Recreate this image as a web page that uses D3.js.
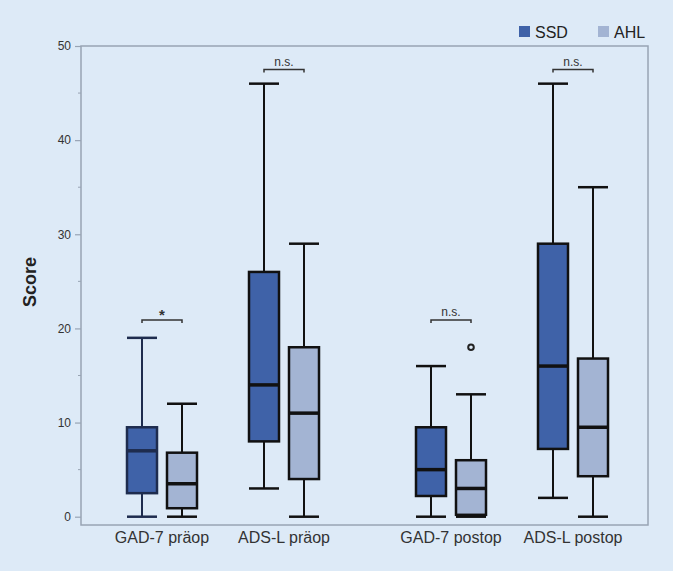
<!DOCTYPE html>
<html>
<head>
<meta charset="utf-8">
<script src="https://cdn.jsdelivr.net/npm/d3@7"></script>
<style>
  body { margin: 0; background: #ddeaf7; }
  svg { display: block; font-family: "Liberation Sans", Arial, sans-serif; }
</style>
</head>
<body>
<div id="chart"></div>
<script>
// categories and groups
var categories = ["GAD-7 präop", "ADS-L präop", "GAD-7 postop", "ADS-L postop"];
var groups = ["SSD", "AHL"];

// box stats per category: [min, q1, median, q3, max]
var ssdStats = [
  [0, 2.5, 7, 9.5, 19],
  [3, 8, 14, 26, 46],
  [0, 2.2, 5, 9.5, 16],
  [2, 7.2, 16, 29, 46]
];
var ahlStats = [
  [0, 0.9, 3.5, 6.8, 12],
  [0, 4, 11, 18, 29],
  [0, 0.2, 3, 6, 13],
  [0, 4.3, 9.5, 16.8, 35]
];
// outliers: [category index, group, value]
var outliers = [[2, "AHL", 18]];
// significance labels per category
var sigLabels = ["*", "n.s.", "n.s.", "n.s."];
var sigLevel = [20.9, 47.5, 20.9, 47.5];

var yTicks = [0, 10, 20, 30, 40, 50];
var yMinor = [5, 15, 25, 35, 45];

var colors = {SSD: "#3f62a8", AHL: "#a3b4d3"};

var W = 673, H = 571;
var svg = d3.select("#chart").append("svg")
    .attr("width", W).attr("height", H);

svg.append("rect").attr("width", W).attr("height", H).attr("fill", "#ddeaf7");

var y = d3.scaleLinear().domain([0, 50]).range([516.7, 46]);

// x: category index, with a wider gap between pre and post
var xPos = d3.scaleLinear().domain([0, 1]).range([162, 284]);
function catX(i) { return xPos(i) + (i >= 2 ? 45 : 0); }
var sub = d3.scaleOrdinal().domain(groups).range([-20, 20]);
var boxW = 30;

// frame
var frameColor = "#98a4b4";
svg.append("rect")
    .attr("x", 81).attr("y", y(50))
    .attr("width", 648 - 81).attr("height", 525 - y(50))
    .attr("fill", "none").attr("stroke", frameColor).attr("stroke-width", 1.5);

// y axis
var yAxis = svg.append("g").attr("transform", "translate(81,0)")
    .call(d3.axisLeft(y).tickValues(yTicks).tickSize(6).tickPadding(4));
yAxis.select(".domain").remove();
yAxis.selectAll(".tick line").attr("stroke", frameColor).attr("stroke-width", 1.2);
yAxis.selectAll(".tick text").attr("fill", "#333").style("font-size", "12px")
    .style("font-family", "Liberation Sans, Arial, sans-serif");

svg.append("g").selectAll("line").data(yMinor).enter().append("line")
    .attr("x1", 78).attr("x2", 81)
    .attr("y1", function(d) { return y(d); }).attr("y2", function(d) { return y(d); })
    .attr("stroke", frameColor).attr("stroke-width", 1);

// y label
svg.append("text")
    .attr("transform", "translate(36," + 282 + ") rotate(-90)")
    .attr("text-anchor", "middle")
    .style("font-size", "18px").style("font-weight", "bold").attr("fill", "#222")
    .text("Score");

// category labels
svg.append("g").selectAll("text").data(categories).enter().append("text")
    .attr("x", function(d, i) { return catX(i); })
    .attr("y", 543)
    .attr("text-anchor", "middle")
    .style("font-size", "16px").attr("fill", "#333")
    .text(function(d) { return d; });

// boxes
function drawBox(stats, group) {
  stats.forEach(function(s, i) {
    var cx = catX(i) + sub(group);
    var stroke = (group === "SSD" && i === 0) ? "#1e2c4e" : "#111";
    var g = svg.append("g");
    // whiskers
    g.append("line").attr("x1", cx).attr("x2", cx)
        .attr("y1", y(s[0])).attr("y2", y(s[1]))
        .attr("stroke", stroke).attr("stroke-width", 2);
    g.append("line").attr("x1", cx).attr("x2", cx)
        .attr("y1", y(s[3])).attr("y2", y(s[4]))
        .attr("stroke", stroke).attr("stroke-width", 2);
    [s[0], s[4]].forEach(function(v) {
      g.append("line").attr("x1", cx - boxW / 2).attr("x2", cx + boxW / 2)
          .attr("y1", y(v)).attr("y2", y(v))
          .attr("stroke", stroke).attr("stroke-width", 2.5);
    });
    g.append("rect")
        .attr("x", cx - boxW / 2).attr("y", y(s[3]))
        .attr("width", boxW).attr("height", y(s[1]) - y(s[3]))
        .attr("fill", colors[group]).attr("stroke", stroke).attr("stroke-width", 2.5);
    g.append("line").attr("x1", cx - boxW / 2).attr("x2", cx + boxW / 2)
        .attr("y1", y(s[2])).attr("y2", y(s[2]))
        .attr("stroke", stroke).attr("stroke-width", 3.5);
  });
}
drawBox(ssdStats, "SSD");
drawBox(ahlStats, "AHL");

// outliers
svg.append("g").selectAll("circle").data(outliers).enter().append("circle")
    .attr("cx", function(d) { return catX(d[0]) + sub(d[1]); })
    .attr("cy", function(d) { return y(d[2]); })
    .attr("r", 2.8)
    .attr("fill", "#ddeaf7").attr("stroke", "#222").attr("stroke-width", 2);

// significance brackets
sigLabels.forEach(function(lab, i) {
  var x1 = catX(i) + sub("SSD"), x2 = catX(i) + sub("AHL"), yy = y(sigLevel[i]);
  svg.append("path")
      .attr("d", "M" + x1 + "," + (yy + 3) + "V" + yy + "H" + x2 + "V" + (yy + 3))
      .attr("fill", "none").attr("stroke", "#333").attr("stroke-width", 1.5);
  svg.append("text")
      .attr("x", (x1 + x2) / 2).attr("y", yy - (lab === "*" ? 0 : 4))
      .attr("text-anchor", "middle")
      .style("font-size", lab === "*" ? "15px" : "12px")
      .style("font-weight", lab === "*" ? "bold" : "normal")
      .attr("fill", "#333")
      .text(lab);
});

// legend
var legX = [519, 598];
groups.forEach(function(gname, i) {
  svg.append("rect").attr("x", legX[i]).attr("y", 26).attr("width", 11).attr("height", 11)
      .attr("fill", colors[gname]);
  svg.append("text").attr("x", legX[i] + 16).attr("y", 37.5)
      .style("font-size", "16px").attr("fill", "#222").text(gname);
});
</script>
</body>
</html>
